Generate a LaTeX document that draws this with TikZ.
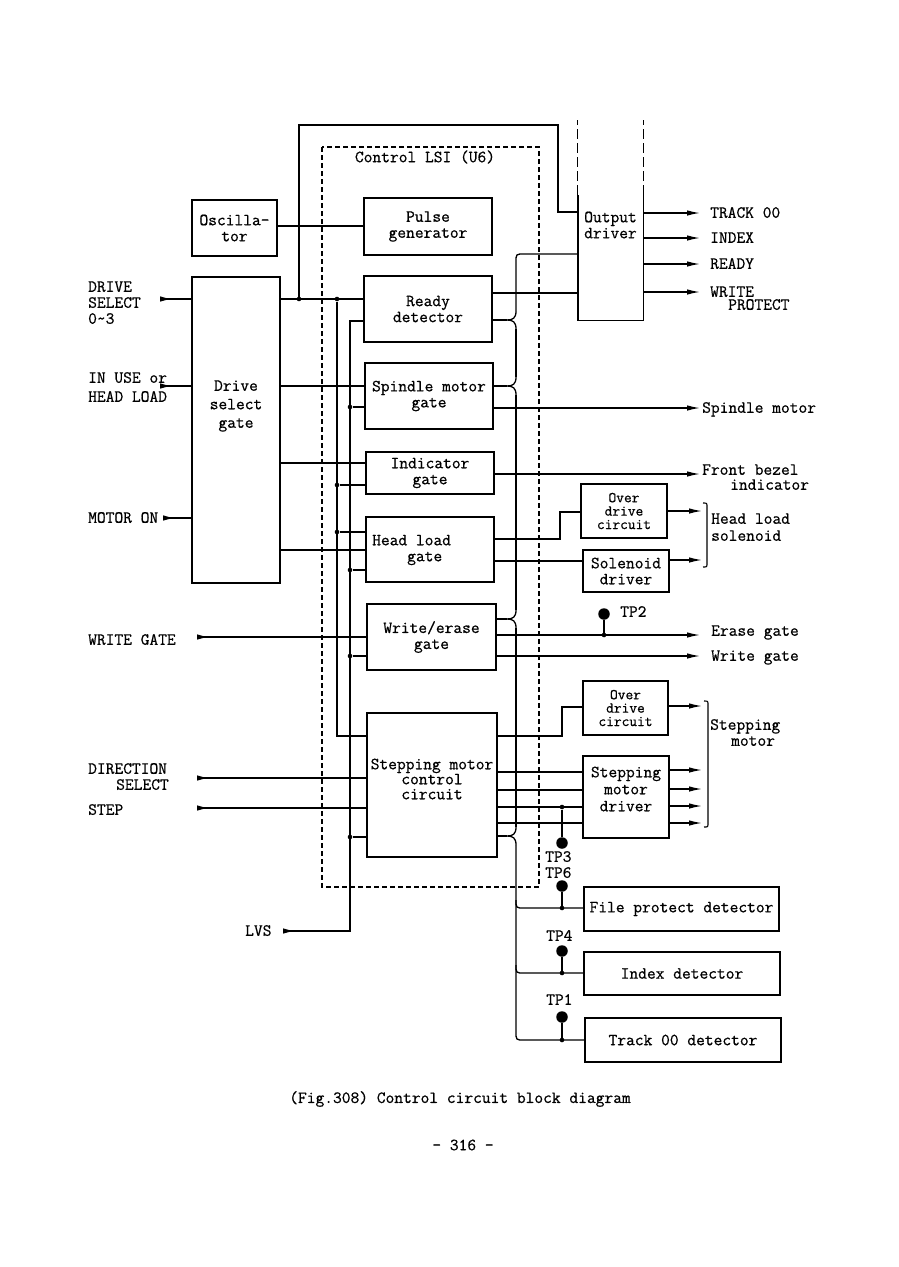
\documentclass[tikz,border=0pt]{standalone}
\usepackage{fontspec}
\usetikzlibrary{arrows.meta}
\newfontfamily\dmono{Latin Modern Mono}[FakeBold=0.7]
\newcommand\dtf{\dmono\fontsize{17}{16}\selectfont}
\newcommand\dtfs{\dmono\fontsize{15}{13.4}\selectfont}
\tikzset{
  x=1pt,y=-1pt,
  w/.style={line width=1.3pt},
  blk/.style={draw,line width=1.4pt,inner sep=0pt,font=\dtf,align=center},
  txt/.style={inner sep=0pt,font=\dtf,align=center},
  lbl/.style={inner sep=0pt,font=\dtf,anchor=west,text height=9.5pt,text depth=0pt},
  arr/.style={w,-{Latex[length=13pt,width=5.5pt]}},
  inarr/.style={w,{Latex[length=12pt,width=5.5pt,reversed]}-},
  jd/.style={circle,fill,inner sep=0pt,minimum size=4.6pt},
  tpd/.style={circle,fill,inner sep=0pt,minimum size=11.5pt},
  lsi/.style={line width=1.2pt,dash pattern=on 5pt off 3pt},
  odd/.style={line width=1.2pt,dash pattern=on 10pt off 4pt}
}
\begin{document}
\begin{tikzpicture}
\fill[white] (0,0) rectangle (899,1267);
\useasboundingbox (0,0) rectangle (899,1267);

% LSI dashed frame
\draw[lsi] (322,147) rectangle (539,887);
\node[txt] (lsilbl) at (425,157) {Control LSI (U6)};

% boxes
\node[blk,minimum width=85pt,minimum height=56pt] (osc) at (234.5,228) {Oscilla-\\tor};
\node[blk,minimum width=88pt,minimum height=306pt] (drv) at (236,430) {};
\node[txt,font=\dmono\fontsize{17}{18.5}\selectfont] (drvt) at (236,406) {Drive\\select\\gate};
\node[blk,minimum width=128pt,minimum height=57pt] (pulse) at (428,226.5) {Pulse\\generator};
\node[blk,minimum width=128pt,minimum height=66pt] (ready) at (428,309) {Ready\\detector};
\node[blk,minimum width=128pt,minimum height=66pt] (spin) at (429,396) {Spindle motor\\gate};
\node[blk,minimum width=128pt,minimum height=42pt] (ind) at (430,473) {Indicator\\gate};
\node[blk,minimum width=128pt,minimum height=65pt] (hl) at (430,549.5) {};
\node[txt,align=left,anchor=west] (hlt) at (372,550) {Head load\\\ \ \ \ gate};
\node[blk,minimum width=129pt,minimum height=66pt] (we) at (431.5,637) {Write/erase\\gate};
\node[blk,minimum width=130pt,minimum height=144pt] (step) at (432,785) {};
\node[txt,font=\dmono\fontsize{17}{15}\selectfont] (stept) at (432,779) {Stepping motor\\control\\circuit};

% output driver
\node[minimum width=65pt,minimum height=125pt,inner sep=0pt] (out) at (610.5,257.5) {};
\draw[line width=1.4pt] (out.north west) -- (out.south west) -- (out.south east) -- (out.north east);
\draw[odd] (out.north west) -- (out.north west |- 0,120);
\draw[odd] (out.north east) -- (out.north east |- 0,120);
\node[txt] (outt) at (610.5,225) {Output\\driver};

\node[blk,font=\dtfs,minimum width=86pt,minimum height=54pt] (od1) at (624,511) {Over\\drive\\circuit};
\node[blk,minimum width=86pt,minimum height=42pt] (sol) at (626,571) {Solenoid\\driver};
\node[blk,font=\dtfs,minimum width=85pt,minimum height=54pt] (od2) at (625.5,708) {Over\\drive\\circuit};
\node[blk,minimum width=86pt,minimum height=82pt] (smd) at (626,797) {};
\node[txt,font=\dmono\fontsize{17}{17}\selectfont] (smdt) at (626,789) {Stepping\\motor\\driver};
\node[blk,minimum width=195pt,minimum height=44pt] (fpd) at (681.5,909) {File protect detector};
\node[blk,minimum width=196pt,minimum height=43pt] (idx) at (682,973.5) {Index detector};
\node[blk,minimum width=196pt,minimum height=44pt] (t00) at (683,1040) {Track 00 detector};

% junction dots
\node[jd] (j1) at (299,299) {};
\node[jd] (j2) at (337,299) {};
\node[jd] (j3) at (350,407) {};
\node[jd] (j4) at (337,485) {};
\node[jd] (j5) at (337,532) {};
\node[jd] (j6) at (350,570) {};
\node[jd] (j7) at (350,656) {};
\node[jd] (j8) at (350,837) {};

% top loop
\draw[w] (j1) -- (299,125) -- (558,125) -- (558,212) -- (out.west |- 0,212);
% oscillator -> pulse
\draw[w] (osc.east |- 0,226) -- (pulse.west |- 0,226);
% drive select gate outputs
\draw[w] (drv.east |- 0,299) -- (ready.west |- 0,299);
\draw[w] (drv.east |- 0,386) -- (spin.west |- 0,386);
\draw[w] (drv.east |- 0,463) -- (ind.west |- 0,463);
\draw[w] (drv.east |- 0,550) -- (hl.west |- 0,550);
% bus A
\draw[w] (j2) -- (337,736) -- (step.west |- 0,736);
\draw[w] (j4) -- (ind.west |- 0,485);
\draw[w] (j5) -- (hl.west |- 0,532);
% bus B with LVS
\draw[inarr] (283,931) -- (350,931) -- (350,321) -- (ready.west |- 0,321);
\draw[w] (j3) -- (spin.west |- 0,407);
\draw[w] (j6) -- (hl.west |- 0,570);
\draw[w] (j7) -- (we.west |- 0,656);
\draw[w] (j8) -- (step.west |- 0,837);

% inputs
\draw[inarr] (160,299) -- (drv.west |- 0,299);
\draw[inarr] (160,386) -- (drv.west |- 0,386);
\draw[inarr] (163,518) -- (drv.west |- 0,518);
\draw[inarr] (197,637) -- (we.west |- 0,637);
\draw[inarr] (197,778) -- (step.west |- 0,778);
\draw[inarr] (197,808) -- (step.west |- 0,808);

% right bus C
\draw[w] (out.west |- 0,254) -- (524,254) .. controls (516,254) .. (516,262) -- (516,311);
\draw[w] (516,329) -- (516,377);
\draw[w] (516,395) -- (516,610);
\draw[w] (516,628) -- (516,827);
\draw[w] (516,845) -- (516,1032) .. controls (516,1040) .. (524,1040) -- (t00.west |- 0,1040);
\draw[w] (516,900) .. controls (516,908) .. (524,908) -- (fpd.west |- 0,908);
\draw[w] (516,965) .. controls (516,973) .. (524,973) -- (idx.west |- 0,973);
% brace junctions
\foreach \yy/\bx in {320/ready,386/spin,619/we,836/step}{
  \draw[w] (\bx.east |- 0,\yy) -- (507,\yy);
  \draw[w] (516,\yy-9) .. controls (516,\yy-2) and (513,\yy) .. (507,\yy) .. controls (513,\yy) and (516,\yy+2) .. (516,\yy+9);
}
% ready -> output driver
\draw[w] (ready.east |- 0,293) -- (out.west |- 0,293);

% output driver outputs
\draw[arr] (out.east |- 0,213) -- (700,213);
\draw[arr] (out.east |- 0,238) -- (700,238);
\draw[arr] (out.east |- 0,264) -- (700,264);
\draw[arr] (out.east |- 0,292) -- (700,292);
\node[lbl] (l1) at (710,213) {TRACK 00};
\node[lbl] (l2) at (710,238) {INDEX};
\node[lbl] (l3) at (710,264) {READY};
\node[lbl] (l4) at (710,292) {WRITE};
\node[lbl] (l5) at (728,305) {PROTECT};

% spindle, indicator
\draw[arr] (spin.east |- 0,408) -- (700,408);
\node[lbl] (l6) at (702,408) {Spindle motor};
\draw[arr] (ind.east |- 0,474) -- (700,474);
\node[lbl] (l7) at (702,470) {Front bezel};
\node[lbl] (l8) at (730,485) {indicator};

% head load
\draw[w] (hl.east |- 0,539) -- (560,539) -- (560,512) -- (od1.west |- 0,512);
\draw[w] (hl.east |- 0,561) -- (sol.west |- 0,561);
\draw[arr] (od1.east |- 0,511) -- (702,511);
\draw[arr] (sol.east |- 0,560) -- (702,560);
\draw[line width=1.1pt] (703,503) .. controls (707,503) .. (707,507) -- (707,563) .. controls (707,567) .. (703,567);
\node[lbl] (l9) at (711,519) {Head load};
\node[lbl] (l10) at (711,536) {solenoid};

% write/erase
\node[jd] (jtp2) at (604,635) {};
\node[tpd] (tp2) at (604,614) {};
\draw[w] (jtp2) -- (tp2);
\draw[arr] (we.east |- 0,635) -- (700,635);
\draw[arr] (we.east |- 0,656) -- (700,656);
\node[lbl] (l11) at (620,612) {TP2};
\node[lbl] (l12) at (711,631) {Erase gate};
\node[lbl] (l13) at (711,656) {Write gate};

% stepping motor
\draw[w] (step.east |- 0,736) -- (562,736) -- (562,707) -- (od2.west |- 0,707);
\foreach \yy in {772,790,807,823}{
  \draw[w] (step.east |- 0,\yy) -- (smd.west |- 0,\yy);
}
\node[jd] (jtp3) at (562,807) {};
\node[tpd] (tp3) at (562,843) {};
\draw[w] (jtp3) -- (tp3);
\node[lbl] (l14) at (545,857) {TP3};
\draw[arr] (od2.east |- 0,706) -- (702,706);
\foreach \yy in {770,789,806,823}{
  \draw[arr] (smd.east |- 0,\yy) -- (702,\yy);
}
\draw[line width=1.1pt] (704,701) .. controls (708,701) .. (708,705) -- (708,823) .. controls (708,827) .. (704,827);
\node[lbl] (l15) at (710,725) {Stepping};
\node[lbl] (l16) at (731,741) {motor};

% detectors test points
\node[jd] (jtp6) at (562,908) {};
\node[tpd] (tp6) at (562,886) {};
\draw[w] (jtp6) -- (tp6);
\node[lbl] (l17) at (545,873) {TP6};
\node[jd] (jtp4) at (562,973) {};
\node[tpd] (tp4) at (562,951) {};
\draw[w] (jtp4) -- (tp4);
\node[lbl] (l18) at (546,936) {TP4};
\node[jd] (jtp1) at (562,1040) {};
\node[tpd] (tp1) at (562,1017) {};
\draw[w] (jtp1) -- (tp1);
\node[lbl] (l19) at (546,1000) {TP1};

% left labels
\node[lbl] (a1) at (88,287) {DRIVE};
\node[lbl] (a2) at (88,303) {SELECT};
\node[lbl] (a3) at (88,319) {0\textasciitilde3};
\node[lbl] (a4) at (88,378) {IN USE or};
\node[lbl] (a5) at (88,397) {HEAD LOAD};
\node[lbl] (a6) at (88,518) {MOTOR ON};
\node[lbl] (a7) at (88,640) {WRITE GATE};
\node[lbl] (a8) at (88,769) {DIRECTION};
\node[lbl] (a9) at (116,785) {SELECT};
\node[lbl] (a10) at (88,810) {STEP};
\node[lbl] (a11) at (245,931) {LVS};

% caption
\node[txt] (cap) at (460,1099) {(Fig.308) Control circuit block diagram};
\node[txt] (pg) at (463,1145) {- 316 -};
\end{tikzpicture}
\end{document}
